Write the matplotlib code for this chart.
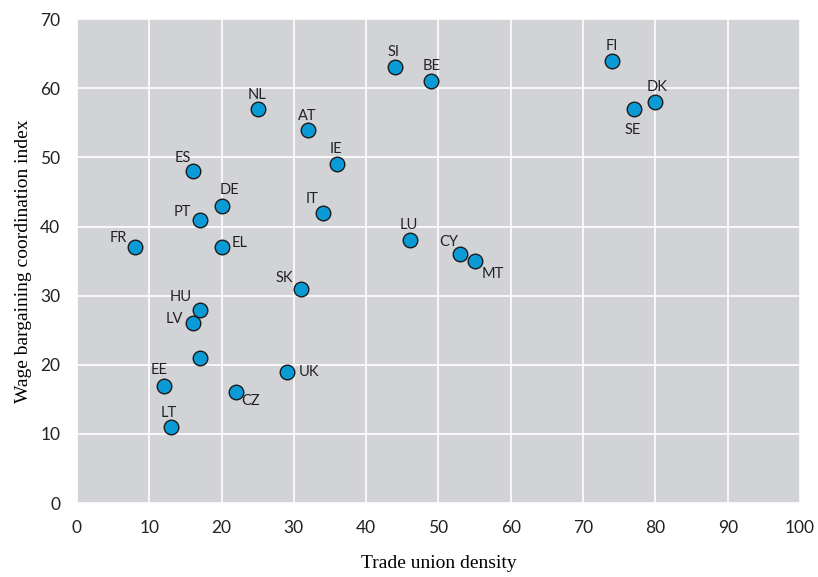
import matplotlib
matplotlib.use("Agg")
import matplotlib.pyplot as plt

# data
countries = ["FR", "ES", "PT", "DE", "EL", "NL", "AT", "IE", "IT", "SK",
             "HU", "LV", "", "EE", "LT", "CZ", "UK", "SI", "BE", "LU",
             "CY", "MT", "FI", "SE", "DK"]
union_density = [8, 16, 17, 20, 20, 25, 32, 36, 34, 31,
                 17, 16, 17, 12, 13, 22, 29, 44, 49, 46,
                 53, 55, 74, 77, 80]
coordination = [37, 48, 41, 43, 37, 57, 54, 49, 42, 31,
                28, 26, 21, 17, 11, 16, 19, 63, 61, 38,
                36, 35, 64, 57, 58]

# label offsets in pixels (dx, dy up)
offsets = [(-16, 9), (-10, 13), (-17, 8), (8, 16), (18, 4), (-1, 14), (-1, 14),
           (-1, 15), (-11, 14), (-17, 11), (-19, 13), (-18, 4), (0, 0), (-5, 16),
           (-2, 14), (15, -9), (22, 0), (-1, 15), (0, 15), (-1, 15), (-11, 12),
           (18, -13), (0, 15), (-1, -21), (2, 15)]

sans = ["Lato", "DejaVu Sans"]
serif = ["Liberation Serif", "DejaVu Serif"]

fig = plt.figure(figsize=(8.18, 5.77), dpi=100)
ax = fig.add_axes([0.094, 0.128, 0.884, 0.839])
ax.set_facecolor("#d1d3d6")
ax.set_xlim(0, 100)
ax.set_ylim(0, 70)
ax.set_xticks(range(0, 101, 10))
ax.set_yticks(range(0, 71, 10))
ax.grid(True, color="white", linewidth=1.2)
ax.set_axisbelow(True)
for s in ax.spines.values():
    s.set_visible(False)
ax.tick_params(length=0, labelsize=12.5, pad=12)
for lab in ax.get_xticklabels() + ax.get_yticklabels():
    lab.set_family(sans)
    lab.set_color("#222222")

ax.scatter(union_density, coordination, s=110, color="#0a9bd6",
           edgecolors="#1a1a1a", linewidths=1.0, zorder=3)

px = 72 / 100.0
for name, x, y, (dx, dy) in zip(countries, union_density, coordination, offsets):
    if not name:
        continue
    ax.annotate(name, (x, y), xytext=(dx * px, dy * px), textcoords="offset points",
                ha="center", va="center", fontsize=10.5, family=sans, color="#222222")

ax.set_xlabel("Trade union density", family=serif, fontsize=14, labelpad=14)
ax.set_ylabel("Wage bargaining coordination index", family=serif, fontsize=14, labelpad=6)

fig.savefig("out.png", dpi=100)
